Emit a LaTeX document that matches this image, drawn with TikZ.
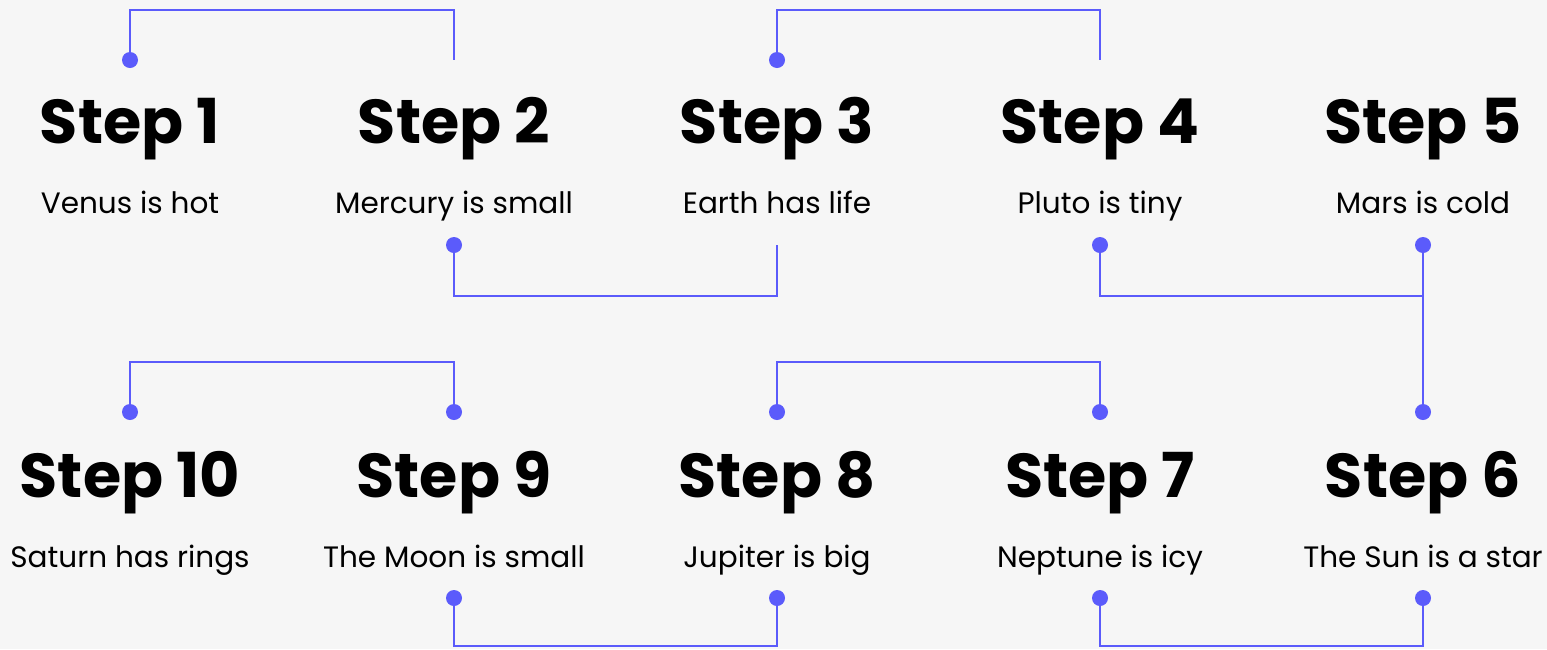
\documentclass[tikz,border=0pt]{standalone}
\usepackage{fontspec}
\setmainfont{Poppins}
\definecolor{bg}{HTML}{F6F6F6}
\definecolor{acc}{HTML}{5B5BFB}
\tikzset{
  conn/.style={draw=acc, line width=2.4pt, line join=miter},
  dotmark/.style={circle, fill=acc, minimum size=16pt, inner sep=0pt},
  steptitle/.style={anchor=base, inner sep=0pt, font=\fontsize{62}{62}\selectfont\bfseries},
  stepsub/.style={anchor=base, inner sep=0pt, font=\fontsize{29.5}{29.5}\selectfont},
}
\begin{document}
\begin{tikzpicture}[x=1pt, y=-1pt]
\fill[bg] (0,0) rectangle (1547,649);
\useasboundingbox (0,0) rectangle (1547,649);
% titles and subtitles, row 1
\node[steptitle] (s1) at (130,143) {Step 1};
\node[steptitle] (s2) at (454,143) {Step 2};
\node[steptitle] (s3) at (777,143) {Step 3};
\node[steptitle] (s4) at (1100,143) {Step 4};
\node[steptitle] (s5) at (1423,143) {Step 5};
\node[stepsub] (d1) at (130,213) {Venus is hot};
\node[stepsub] (d2) at (454,213) {Mercury is small};
\node[stepsub] (d3) at (777,213) {Earth has life};
\node[stepsub] (d4) at (1100,213) {Pluto is tiny};
\node[stepsub] (d5) at (1423,213) {Mars is cold};
% row 2
\node[steptitle] (s10) at (130,497) {Step 10};
\node[steptitle] (s9) at (454,497) {Step 9};
\node[steptitle] (s8) at (777,497) {Step 8};
\node[steptitle] (s7) at (1100,497) {Step 7};
\node[steptitle] (s6) at (1423,497) {Step 6};
\node[stepsub] (d10) at (130,567) {Saturn has rings};
\node[stepsub] (d9) at (454,567) {The Moon is small};
\node[stepsub] (d8) at (777,567) {Jupiter is big};
\node[stepsub] (d7) at (1100,567) {Neptune is icy};
\node[stepsub] (d6) at (1423,567) {The Sun is a star};
% connector points
\coordinate (t1) at (130,60);
\coordinate (t2) at (454,60);
\coordinate (t3) at (777,60);
\coordinate (t4) at (1100,60);
\coordinate (b2) at (454,245);
\coordinate (b3) at (777,245);
\coordinate (b4) at (1100,245);
\coordinate (b5) at (1423,245);
\coordinate (j5) at (1423,296);
\coordinate (t10) at (130,412);
\coordinate (t9) at (454,412);
\coordinate (t8) at (777,412);
\coordinate (t7) at (1100,412);
\coordinate (t6) at (1423,412);
\coordinate (b9) at (454,598);
\coordinate (b8) at (777,598);
\coordinate (b7) at (1100,598);
\coordinate (b6) at (1423,598);
% connectors
\draw[conn] (t1) -- ++(0,-50) -| (t2);
\draw[conn] (t3) -- ++(0,-50) -| (t4);
\draw[conn] (b2) -- ++(0,51) -| (b3);
\draw[conn] (b4) |- (j5);
\draw[conn] (b5) -- (t6);
\draw[conn] (t10) -- ++(0,-50) -| (t9);
\draw[conn] (t8) -- ++(0,-50) -| (t7);
\draw[conn] (b9) -- ++(0,48) -| (b8);
\draw[conn] (b7) -- ++(0,48) -| (b6);
% dots
\foreach \p in {t1,t3,b2,b4,b5,t10,t9,t8,t7,t6,b9,b8,b7,b6}
  \node[dotmark] at (\p) {};
\end{tikzpicture}
\end{document}
